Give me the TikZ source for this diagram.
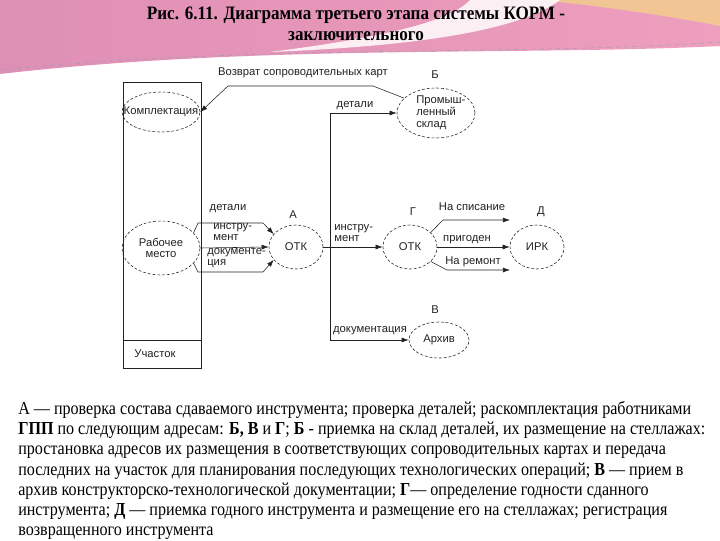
\documentclass[tikz,border=0pt]{standalone}
\usepackage{fontspec}
\setmainfont{Liberation Serif}
\newfontfamily\diagfont{Liberation Sans}
\newfontfamily\titlefont[FakeStretch=0.9]{Liberation Serif}
\newfontfamily\bodyfont[FakeStretch=0.88]{Liberation Serif}
\usetikzlibrary{arrows.meta,positioning,shapes.geometric}

\definecolor{bandpink}{HTML}{DE8FB4}
\definecolor{bandpeach}{HTML}{ECB08E}
\definecolor{bandrose}{HTML}{EE9FBE}
\definecolor{bandyellow}{HTML}{F3CF8A}
\definecolor{inkgray}{HTML}{222222}

\tikzset{
  oval/.style={draw=inkgray, ellipse, dash pattern=on 2pt off 1.4pt, thin, inner sep=0pt},
  txt/.style={font=\diagfont\fontsize{8}{8.4}\selectfont, text=inkgray, inner sep=0pt, align=left},
  flow/.style={draw=inkgray, thin, -{Latex[length=5pt,width=3.5pt]}},
  wire/.style={draw=inkgray, thin},
}

\begin{document}
\begin{tikzpicture}[x=0.025cm, y=-0.025cm]
\useasboundingbox (0,0) rectangle (720,540);

% top band
\shade[left color=bandpink, middle color=bandpeach, right color=bandrose]
  (0,0) -- (720,0) -- (720,46) .. controls (520,56) and (260,44) .. (0,74) -- cycle;
\fill[bandyellow, opacity=.8] (540,0) -- (720,0) -- (720,26) .. controls (670,16) and (600,6) .. (540,0) -- cycle;
\fill[white, opacity=.85] (470,0) -- (560,0) .. controls (520,30) and (420,46) .. (270,52)
  .. controls (380,38) and (450,22) .. (470,0) -- cycle;
\draw[dashed, cyan!40!gray, opacity=.6] (0,70) .. controls (260,44) and (520,56) .. (720,42);

\node[font=\titlefont\bfseries\fontsize{13.5}{15}\selectfont, align=center] (title) at (356,24)
  {Рис. 6.11. Диаграмма третьего этапа системы КОРМ -\\заключительного};

% frame of the section
\draw[wire] (123,82) rectangle (201,368);
\draw[wire] (123,340) -- (201,340);
\node[txt] (uch) at (155,354) {Участок};

% ovals
\node[oval, minimum width=1.95cm, minimum height=1cm] (komp) at (161,112) {};
\node[txt] (kompT) at (komp) {Комплектация};
\node[oval, minimum width=1.95cm, minimum height=1.35cm] (rab) at (161,248) {};
\node[txt, align=center] (rabT) at (rab) {Рабочее\\место};
\node[oval, minimum width=1.95cm, minimum height=1.25cm] (sklad) at (436,113) {};
\node[txt, anchor=west] (skladT) at (416,113) {Промыш-\\ленный\\склад};
\node[oval, minimum width=1.35cm, minimum height=1.1cm] (otkA) at (296,247) {};
\node[txt] (otkAT) at (otkA) {ОТК};
\node[oval, minimum width=1.35cm, minimum height=1.1cm] (otkG) at (410,247) {};
\node[txt] (otkGT) at (otkG) {ОТК};
\node[oval, minimum width=1.35cm, minimum height=1.1cm] (irk) at (537,247) {};
\node[txt] (irkT) at (irk) {ИРК};
\node[oval, minimum width=1.5cm, minimum height=0.9cm] (arkhiv) at (439,340) {};
\node[txt] (arkhivT) at (arkhiv) {Архив};

% letters
\node[txt] (labA) at (293,215) {А};
\node[txt] (labB) at (435,75) {Б};
\node[txt] (labV) at (435,310) {В};
\node[txt] (labG) at (413,212) {Г};
\node[txt] (labD) at (541,212) {Д};

% return of the cards
\node[txt] (ret) at (303,73) {Возврат сопроводительных карт};
\coordinate (retR) at (373,86);
\coordinate (retL) at (228,86);
\draw[flow] (sklad.155) -- (retR) -- (retL) -- (komp.east);

% workplace -> OTK A
\coordinate (t1) at (198,223);
\coordinate (t2) at (263,223);
\coordinate (b1) at (198,272);
\coordinate (b2) at (263,272);
\draw[flow] (rab.25) -- (t1) -- (t2) -- (otkA.150);
\draw[flow] (rab.east) -- (otkA.west);
\draw[flow] (rab.-25) -- (b1) -- (b2) -- (otkA.-150);
\node[txt] (detA) at (228,209) {детали};
\node[txt, anchor=west] (instA) at (213,232) {инстру-\\мент};
\node[txt, anchor=west] (docA) at (207,258) {документе-\\ция};

% OTK A -> B, V, G
\coordinate (jn) at (330,247);
\draw[flow] (otkA.east) -- (otkG.west);
\draw[flow] (jn) |- (sklad.west);
\draw[flow] (jn) |- (arkhiv.west);
\node[txt] (detB) at (355,106) {детали};
\node[txt, anchor=west] (instG) at (334,233) {инстру-\\мент};
\node[txt] (docV) at (370,331) {документация};

% OTK G -> D
\coordinate (s1) at (443,220);
\coordinate (s2) at (510,220);
\coordinate (r1) at (447,270);
\coordinate (r2) at (510,270);
\draw[flow] (otkG.35) -- (s1) -- (s2);
\draw[flow] (otkG.east) -- (irk.west);
\draw[flow] (otkG.-35) -- (r1) -- (r2);
\node[txt] (spis) at (472,207) {На списание};
\node[txt] (prig) at (467,240) {пригоден};
\node[txt] (rem) at (473,262) {На ремонт};

% legend
\node[font=\bodyfont\fontsize{13}{14.4}\selectfont, anchor=north west, align=left, inner sep=0pt] (legend) at (18,401)
  {А — проверка состава сдаваемого инструмента; проверка деталей; раскомплектация работниками\\
   \textbf{ГПП} по следующим адресам: \textbf{Б, В} и \textbf{Г}; \textbf{Б} - приемка на склад деталей, их размещение на стеллажах:\\
   простановка адресов их размещения в соответствующих сопроводительных картах и передача\\
   последних на участок для планирования последующих технологических операций; \textbf{В} — прием в\\
   архив конструкторско-технологической документации; \textbf{Г}— определение годности сданного\\
   инструмента; \textbf{Д} — приемка годного инструмента и размещение его на стеллажах; регистрация\\
   возвращенного инструмента};
\end{tikzpicture}
\end{document}
